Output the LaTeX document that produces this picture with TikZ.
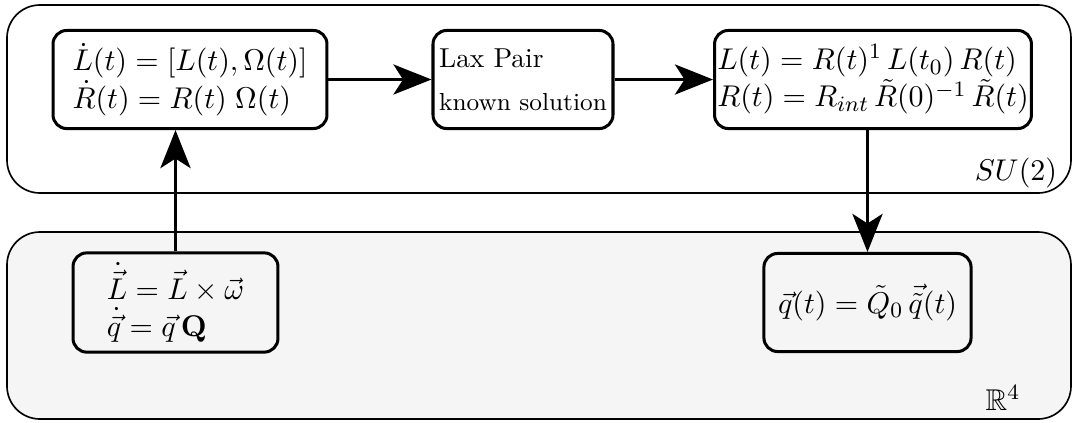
\documentclass[tikz,border=0pt,11pt]{standalone}
\usepackage{amsmath,amssymb}
\usetikzlibrary{arrows.meta}

\begin{document}
\begin{tikzpicture}[>={Stealth[length=13.9pt,width=11pt,inset=3.5pt]},x=0.365pt,y=-0.365pt,
  eqbox/.style={draw,line width=1.1pt,rounded corners=5pt,align=left,minimum height=35.8pt},
  flow/.style={->,line width=1.1pt},
  region/.style={draw,line width=0.6pt,rounded corners=12pt}]
  \useasboundingbox (0,0) rectangle (1078,422);
  % the two spaces
  \draw[region,fill=white] (7,5) rectangle (1071,193);
  \draw[region,fill=black!4] (7,232) rectangle (1071,419);
  \node (su) at (1016,173) {$SU(2)$};
  \node (rfour) at (1003,398) {$\mathbb{R}^4$};
  % equations in SU(2)
  \node[eqbox,minimum width=100pt] (eom) at (190,79.5)
    {$\dot{L}(t) = [L(t), \Omega(t)]$\\ $\dot{R}(t) = R(t)\; \Omega(t)$};
  \node[eqbox,minimum width=65.7pt,inner sep=2pt] (lax) at (523,79.5)
    {\small Lax Pair\\[2pt] \footnotesize known solution};
  \node[eqbox,minimum width=115.3pt,inner sep=1pt] (sol) at (873,79.5)
    {$L(t) = R(t)^1\, L(t_0)\, R(t)$\\ $R(t) = R_{int}\, \tilde{R}(0)^{-1}\, \tilde{R}(t)$};
  % equations in R^4
  \node[eqbox,minimum width=74.8pt] (vec) at (175.5,302.5)
    {$\dot{\vec{L}} = \vec{L} \times \vec{\omega}$\\ $\dot{\vec{q}} = \vec{q}\,\mathbf{Q}$};
  \node[eqbox,minimum width=75.6pt] (qsol) at (867.5,302.5)
    {$\vec{q}(t) = \tilde{Q}_0\, \vec{\tilde{q}}(t)$};
  % connectors
  \draw[flow] (eom) -- (lax);
  \draw[flow] (lax) -- (sol);
  \draw[flow] (sol.south -| qsol.north) -- (qsol.north);
  \draw[flow] (vec.north) -- (vec.north |- eom.south);
\end{tikzpicture}
\end{document}
